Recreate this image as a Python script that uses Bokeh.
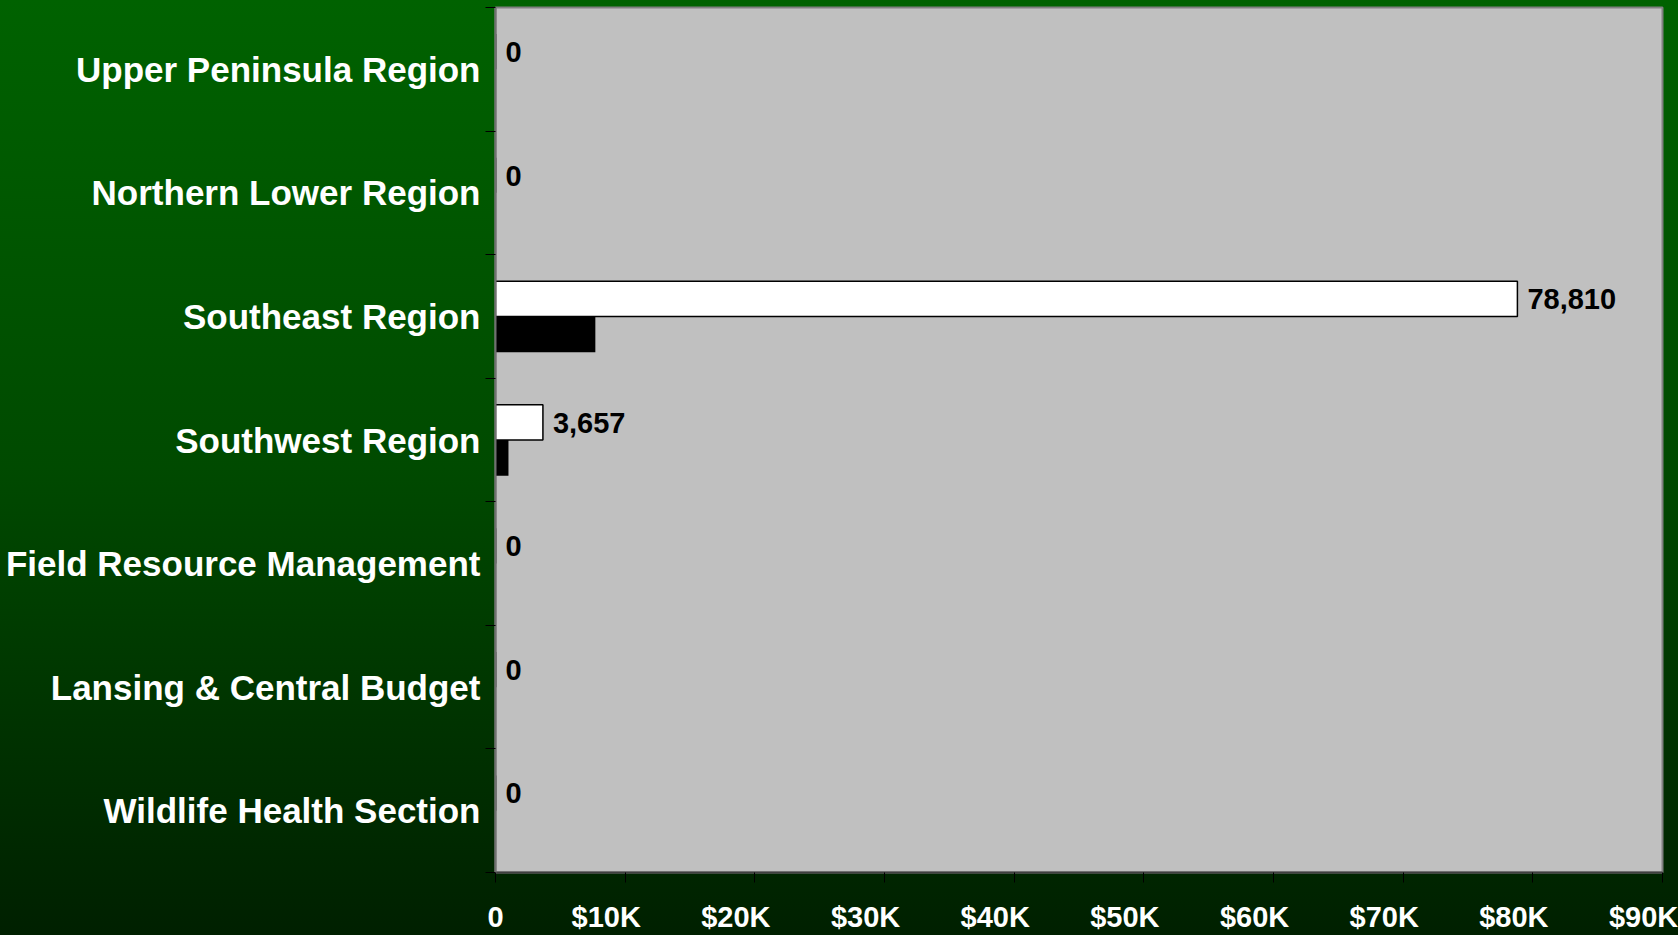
from bokeh.plotting import figure
from bokeh.models import ColumnDataSource, Range1d, FixedTicker, LabelSet
from bokeh.transform import dodge
from bokeh.core.properties import value
from bokeh.embed import file_html
from bokeh.resources import INLINE

# ---- data ----
categories = [
    "Upper Peninsula Region",
    "Northern Lower Region",
    "Southeast Region",
    "Southwest Region",
    "Field Resource Management",
    "Lansing & Central Budget",
    "Wildlife Health Section",
]
series1_values = [0, 0, 78810, 3657, 0, 0, 0]   # white bars (labelled)
series2_values = [0, 0, 7700, 1000, 0, 0, 0]   # black bars
x_ticks = [0, 10000, 20000, 30000, 40000, 50000, 60000, 70000, 80000, 90000]
x_tick_labels = ["0", "$10K", "$20K", "$30K", "$40K", "$50K", "$60K", "$70K", "$80K", "$90K"]

n = len(categories)
ypos = [n - 1 - i for i in range(n)]  # top category first
src = ColumnDataSource(dict(
    ypos=ypos,
    cat=categories,
    v1=series1_values,
    v2=series2_values,
    lab=[f"{v:,}" for v in series1_values],
))

FONT = "Liberation Sans"

p = figure(
    width=1678, height=935,
    x_range=Range1d(0, 90000), y_range=Range1d(-0.5, n - 0.5),
    output_backend="svg", toolbar_location=None,
    min_border_left=495, min_border_right=16, min_border_top=7, min_border_bottom=63,
)
p.border_fill_color = None
p.background_fill_color = "#C0C0C0"
p.outline_line_color = "#808080"
p.outline_line_width = 2
p.xgrid.visible = False
p.ygrid.visible = False

p.hbar(y=dodge("ypos", 0.1425, range=p.y_range), right="v1", left=0, height=0.285,
       source=src, fill_color="white", line_color="black", line_width=1.5)
p.hbar(y=dodge("ypos", -0.145, range=p.y_range), right="v2", left=0, height=0.29,
       source=src, fill_color="black", line_color=None)

labels = LabelSet(x="v1", y=dodge("ypos", 0.14, range=p.y_range), text="lab", source=src,
                  x_offset=10, text_baseline="middle", text_align="left",
                  text_font=value(FONT), text_font_style="bold", text_font_size="29px",
                  text_color="black")
p.add_layout(labels)

# x axis: tick marks (minor) at the true values; labels sit a little left of them,
# as in the original
LABEL_SHIFT = 1460  # ~19 px at this scale
label_pos = [t if t == 0 else t - LABEL_SHIFT for t in x_ticks]
p.xaxis.ticker = FixedTicker(ticks=label_pos, minor_ticks=x_ticks)
p.xaxis.major_label_overrides = {t: l for t, l in zip(label_pos, x_tick_labels)}
p.xaxis.major_label_text_font = FONT
p.xaxis.major_label_text_font_style = "bold"
p.xaxis.major_label_text_font_size = "29px"
p.xaxis.major_label_text_color = "white"
p.xaxis.major_label_standoff = 18
p.xaxis.major_tick_line_color = None
p.xaxis.major_tick_out = 10
p.xaxis.major_tick_in = 0
p.xaxis.minor_tick_out = 10
p.xaxis.minor_tick_in = 0
p.xaxis.minor_tick_line_color = "black"
p.xaxis.axis_line_color = "#404040"
p.xaxis.axis_line_width = 2

# y axis: labels at centers, tick marks at category boundaries
p.yaxis.ticker = FixedTicker(ticks=ypos, minor_ticks=[i - 0.5 for i in range(n + 1)])
p.yaxis.major_label_overrides = {y: c for y, c in zip(ypos, categories)}
p.yaxis.major_label_text_font = FONT
p.yaxis.major_label_text_font_style = "bold"
p.yaxis.major_label_text_font_size = "35px"
p.yaxis.major_label_text_color = "white"
p.yaxis.major_label_standoff = 5
p.yaxis.major_tick_line_color = None
p.yaxis.major_tick_out = 10
p.yaxis.major_tick_in = 0
p.yaxis.minor_tick_out = 10
p.yaxis.minor_tick_in = 0
p.yaxis.minor_tick_line_color = "black"
p.yaxis.axis_line_color = "#707070"
p.yaxis.axis_line_width = 2

html = file_html(p, INLINE)
style = ("<style>html, body { background: linear-gradient(to bottom, #006200 0%, #004a00 50%, #002000 100%); "
         "min-height: 100%; } html { height: 100%; }</style>")
html = html.replace("</head>", style + "</head>", 1)
open("out.html", "w").write(html)
